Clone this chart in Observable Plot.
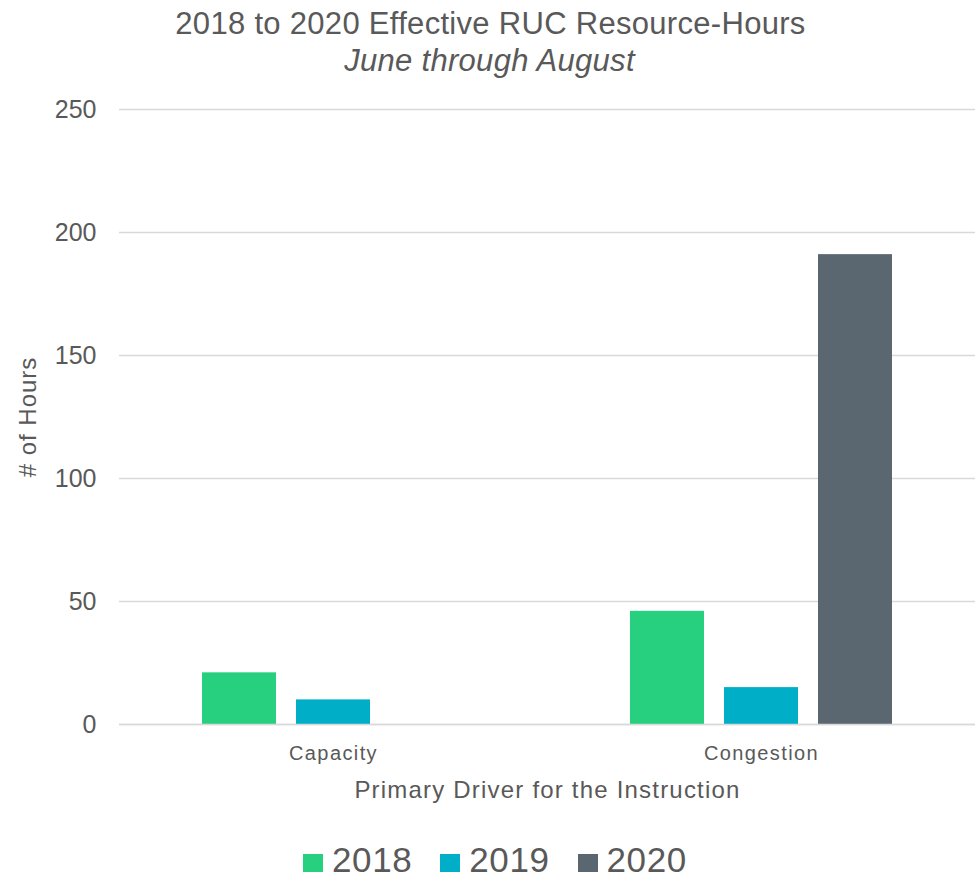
<!DOCTYPE html>
<html><head><meta charset="utf-8">
<script src="https://cdn.jsdelivr.net/npm/d3@7"></script>
<script src="https://cdn.jsdelivr.net/npm/@observablehq/plot@0.6"></script>
<style>
body{margin:0;background:#fff;font-family:"Liberation Sans",Arial,sans-serif;color:#595959}
#wrap{position:relative;width:979px;height:881px;overflow:hidden}
.t{position:absolute;left:0;width:979px;text-align:center;white-space:nowrap;line-height:1}
#title{top:8px;left:1px;font-size:31px;letter-spacing:0.3px}
#sub{top:45px;font-size:31px;font-style:italic;letter-spacing:0.3px}
#chart{position:absolute;left:0;top:80px}
#legend{position:absolute;top:845px;left:303px;display:flex;align-items:center}
.item{display:flex;align-items:center;margin-right:28px}
.sw{width:20px;height:18px;margin-right:9px;position:relative;top:3px}
.lt{font-size:35px;line-height:30px;letter-spacing:0.6px}
</style></head>
<body>
<div id="wrap">
  <div id="title" class="t"></div>
  <div id="sub" class="t"></div>
  <div id="chart"></div>
  <div id="legend"></div>
</div>
<script>
const titleText = "2018 to 2020 Effective RUC Resource-Hours";
const subtitleText = "June through August";
const categories = ["Capacity", "Congestion"];
const years = ["2018", "2019", "2020"];
const hours2018 = [21, 46];
const hours2019 = [10, 15];
const hours2020 = [null, 191];
const yTicks = [0, 50, 100, 150, 200, 250];
const colors = ["#27D07F", "#00AEC7", "#5A6670"];
const yLabel = "# of Hours";
const xLabel = "Primary Driver for the Instruction";

document.getElementById("title").textContent = titleText;
document.getElementById("sub").textContent = subtitleText;

const series = [hours2018, hours2019, hours2020];
const data = [];
categories.forEach((c, i) => {
  series.forEach((s, j) => {
    if (s[i] != null) data.push({category: c, year: years[j], hours: s[i]});
  });
});

const chart = Plot.plot({
  width: 979,
  height: 750,
  marginLeft: 119,
  marginRight: 4,
  marginTop: 29,
  marginBottom: 106,
  style: {fontFamily: "Liberation Sans, Arial, sans-serif", color: "#595959", background: "transparent"},
  fx: {domain: categories, padding: 0},
  x: {domain: years, paddingInner: 0.213, paddingOuter: 0.883, axis: null},
  y: {domain: [0, 250]},
  color: {domain: years, range: colors},
  marks: [
    Plot.gridY(yTicks, {stroke: "#D9D9D9", strokeOpacity: 1, strokeWidth: 1.5}),
    Plot.axisY(yTicks, {tickSize: 0, tickPadding: 23, fontSize: 25, label: null}),
    Plot.axisY([], {tickSize: 0, fontSize: 24, label: yLabel, labelAnchor: "center", labelOffset: 101, labelArrow: "none"}),
    Plot.axisFx({anchor: "bottom", tickSize: 0, tickPadding: 21.5, fontSize: 20, label: null}),
    Plot.axisFx([], {anchor: "bottom", tickSize: 0, fontSize: 24, label: xLabel, labelAnchor: "center", labelOffset: 73, labelArrow: "none"}),
    Plot.barY(data, {fx: "category", x: "year", y: "hours", fill: "year"}),
    Plot.ruleY([0], {stroke: "#D9D9D9", strokeWidth: 1.5})
  ]
});
// slightly wider tracking, as in the reference's text
d3.select(chart).selectAll("g[aria-label='fx-axis tick label'] text").style("letter-spacing", "1.4px");
d3.select(chart).selectAll("g[aria-label='fx-axis label'] text").style("letter-spacing", "1.2px");
d3.select(chart).selectAll("g[aria-label='y-axis label'] text").style("letter-spacing", "1px");
document.getElementById("chart").appendChild(chart);

const legend = document.getElementById("legend");
years.forEach((y, i) => {
  const item = document.createElement("div");
  item.className = "item";
  const sw = document.createElement("div");
  sw.className = "sw";
  sw.style.background = colors[i];
  const lt = document.createElement("span");
  lt.className = "lt";
  lt.textContent = y;
  item.appendChild(sw);
  item.appendChild(lt);
  legend.appendChild(item);
});
</script>
</body></html>
